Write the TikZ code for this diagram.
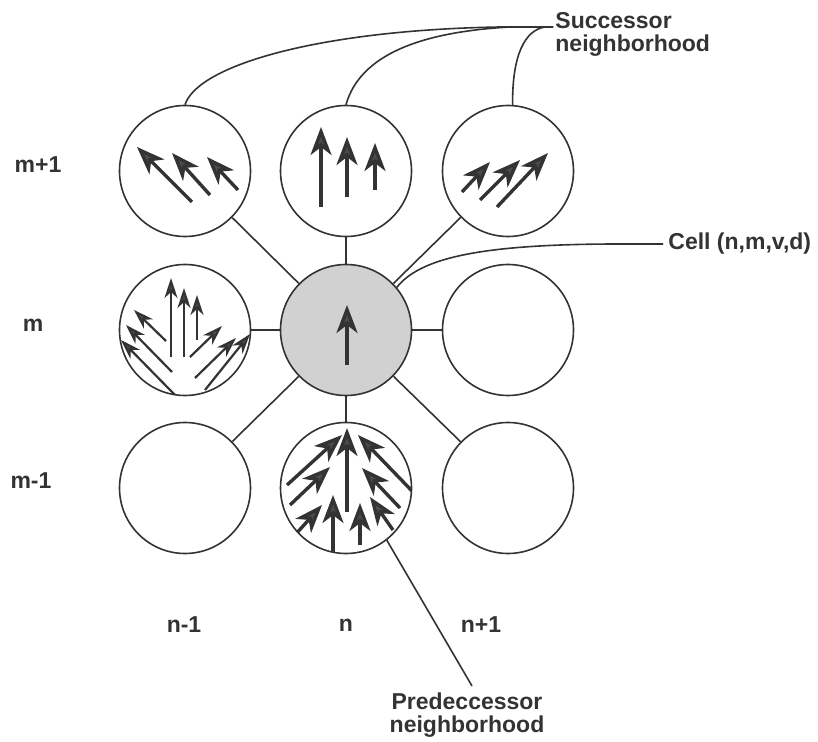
\documentclass[tikz,border=0pt]{standalone}
\usepackage{fontspec}
\setmainfont{Liberation Sans}
\usetikzlibrary{arrows.meta}
\definecolor{inkgray}{gray}{0.2}
\definecolor{headgray}{gray}{0.3}
\definecolor{cellgray}{gray}{0.82}
\tikzset{
  cell/.style={circle,draw=inkgray,fill=white,line width=0.8pt,minimum size=65.5pt,inner sep=0pt},
  lbl/.style={font=\bfseries\fontsize{11.5}{11.5}\selectfont,text=inkgray,inner sep=0pt},
  link/.style={draw=inkgray,line width=0.8pt},
  vec/.style={draw=inkgray,line width=1.7pt,-{Stealth[length=14pt,width=10.5pt,inset=4pt,fill=headgray]}},
  thinvec/.style={draw=inkgray,line width=1.1pt,-{Stealth[length=10pt,width=6.5pt,inset=3pt,fill=headgray]}},
}
\begin{document}
\begin{tikzpicture}[x=0.5pt,y=-0.5pt]
\useasboundingbox (0,0) rectangle (818,742);
\node[cell] (nw) at (185,171) {};
\node[cell] (nn) at (346,171) {};
\node[cell] (ne) at (508,171) {};
\node[cell] (ww) at (185,330) {};
\node[cell,fill=cellgray] (cc) at (346,330) {};
\node[cell] (ee) at (508,330) {};
\node[cell] (sw) at (185,488) {};
\node[cell] (ss) at (346,488) {};
\node[cell] (se) at (508,488) {};
\foreach \c in {nw,nn,ne,ww,ee,sw,ss,se} \draw[link] (cc) -- (\c);

\draw[vec] (192,202) -- (137,147);
\draw[vec] (210,195) -- (172,153);
\draw[vec] (238,190) -- (207,157);

\draw[vec] (321,207) -- (321,127);
\draw[vec] (347,197) -- (347,137);
\draw[vec] (375,190) -- (375,143);

\draw[vec] (462,192) -- (490,162);
\draw[vec] (480,200) -- (520,160);
\draw[vec] (497,207) -- (548,153);

\draw[vec] (347,365) -- (347,305);

\begin{scope}
\clip (185,330) circle [radius=65];
\draw[thinvec] (171,357) -- (171,278);
\draw[thinvec] (184,357) -- (184,288);
\draw[thinvec] (197,340) -- (197,295);
\draw[thinvec] (166,341) -- (134,310);
\draw[thinvec] (172,372) -- (126,325);
\draw[thinvec] (175,395) -- (121,340);
\draw[thinvec] (190,357) -- (222,326);
\draw[thinvec] (195,378) -- (236,338);
\draw[thinvec] (205,390) -- (250,334);
\end{scope}

\begin{scope}
\clip (346,488) circle [radius=65];
\draw[vec] (347,512) -- (347,428);
\draw[vec] (333,560) -- (333,495);
\draw[vec] (360,545) -- (360,503);
\draw[vec] (287,485) -- (342,435);
\draw[vec] (290,505) -- (330,467);
\draw[vec] (295,535) -- (322,505);
\draw[vec] (413,492) -- (358,435);
\draw[vec] (400,508) -- (362,468);
\draw[vec] (393,530) -- (370,497);
\end{scope}

\coordinate (sj) at (553,27);
\node[lbl,anchor=north west,align=left] (succ) at (555,12) {Successor\\neighborhood};
\draw[link] (nw.north) .. controls (198,65) and (320,30) .. (500,27) -- (sj);
\draw[link] (nn.north) .. controls (360,55) and (420,32) .. (510,27) -- (sj);
\draw[link] (ne.86) .. controls (512,55) and (525,30) .. (545,27) -- (sj);

\coordinate (cj) at (663,244);
\node[lbl,anchor=west] (cell) at (668,244) {Cell (n,m,v,d)};
\draw[link] (cc.40) .. controls (420,258) and (480,244) .. (620,244) -- (cj);

\coordinate (pj) at (472,686);
\node[lbl,align=center,anchor=north] (pred) at (467,692) {Predeccessor\\neighborhood};
\draw[link] (ss.-52) -- (pj);

\node[lbl] (rtop) at (38,165) {m+1};
\node[lbl] (rmid) at (33,325) {m};
\node[lbl] (rbot) at (31,481) {m-1};
\node[lbl] (cl) at (184,625) {n-1};
\node[lbl] (cm) at (346,625) {n};
\node[lbl] (cr) at (481,625) {n+1};
\end{tikzpicture}
\end{document}
